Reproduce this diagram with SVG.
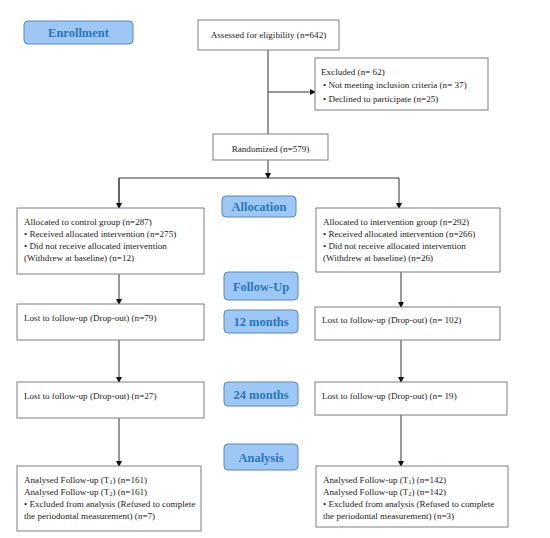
<svg xmlns="http://www.w3.org/2000/svg" width="550" height="538" viewBox="0 0 550 538">
<style>
.box{fill:#fff;stroke:#7f7f7f;stroke-width:1}
.lbl{fill:#9dc8f5;stroke:#5b87b8;stroke-width:1}
.lt{font-family:"Liberation Serif",serif;font-weight:bold;font-size:12.5px;fill:#2e75b6;text-anchor:middle}
.t{font-family:"Liberation Serif",serif;font-size:9.1px;fill:#222}
.ln{stroke:#333;stroke-width:1;fill:none}
</style>
<defs>
<marker id="ah" markerWidth="6" markerHeight="6" refX="5" refY="3" orient="auto" markerUnits="userSpaceOnUse">
<path d="M0,0 L6,3 L0,6 Z" fill="#111"/>
</marker>
</defs>
<rect width="550" height="538" fill="#fff"/>
<g id="connectors">
<line class="ln" x1="268" y1="50" x2="268" y2="134"/>
<line class="ln" x1="268" y1="92" x2="315" y2="92" marker-end="url(#ah)"/>
<line class="ln" x1="268" y1="160" x2="268" y2="178" marker-end="url(#ah)"/>
<polyline class="ln" points="119,208 119,178 399,178 399,208" marker-end="url(#ah)"/>
<line class="ln" x1="119" y1="178" x2="119" y2="208" marker-end="url(#ah)"/>
<line class="ln" x1="119" y1="274" x2="119" y2="304" marker-end="url(#ah)"/>
<line class="ln" x1="401" y1="272" x2="401" y2="307" marker-end="url(#ah)"/>
<line class="ln" x1="119" y1="340" x2="119" y2="382" marker-end="url(#ah)"/>
<line class="ln" x1="401" y1="340" x2="401" y2="382" marker-end="url(#ah)"/>
<line class="ln" x1="119" y1="418" x2="119" y2="466" marker-end="url(#ah)"/>
<line class="ln" x1="401" y1="415" x2="401" y2="466" marker-end="url(#ah)"/>
</g>
<g id="enrollment"><rect class="lbl" x="24" y="21" width="109" height="23" rx="4"/><text class="lt" x="78.5" y="37">Enrollment</text></g>
<g id="allocation"><rect class="lbl" x="222" y="196" width="74" height="21" rx="4"/><text class="lt" x="259" y="211">Allocation</text></g>
<g id="followup"><rect class="lbl" x="224" y="272" width="74" height="28" rx="4"/><text class="lt" x="261" y="291">Follow-Up</text></g>
<g id="m12"><rect class="lbl" x="224" y="310" width="74" height="23" rx="4"/><text class="lt" x="261" y="326">12 months</text></g>
<g id="m24"><rect class="lbl" x="224" y="382" width="74" height="24" rx="4"/><text class="lt" x="261" y="399">24 months</text></g>
<g id="analysis"><rect class="lbl" x="224" y="444" width="74" height="26" rx="4"/><text class="lt" x="261" y="462">Analysis</text></g>
<g id="assessed"><rect class="box" x="198" y="20" width="141" height="30"/><text class="t" x="268.5" y="38" text-anchor="middle">Assessed for eligibility (n=642)</text></g>
<g id="excluded"><rect class="box" x="315" y="58" width="173" height="52"/>
<text class="t" x="321" y="75">Excluded (n= 62)</text>
<text class="t" x="323" y="88">•  Not meeting inclusion criteria (n= 37)</text>
<text class="t" x="323" y="102">•  Declined to participate (n=25)</text></g>
<g id="randomized"><rect class="box" x="213" y="134" width="115" height="26"/><text class="t" x="270.5" y="152" text-anchor="middle">Randomized (n=579)</text></g>
<g id="alloc-control"><rect class="box" x="17" y="208" width="187" height="66"/>
<text class="t" x="24" y="225">Allocated to control group (n=287)</text>
<text class="t" x="24" y="237">• Received allocated intervention (n=275)</text>
<text class="t" x="24" y="249">• Did not receive allocated intervention</text>
<text class="t" x="24" y="261">(Withdrew at baseline) (n=12)</text></g>
<g id="alloc-interv"><rect class="box" x="316" y="208" width="184" height="64"/>
<text class="t" x="323" y="225">Allocated to intervention group (n=292)</text>
<text class="t" x="323" y="237">• Received allocated intervention (n=266)</text>
<text class="t" x="323" y="249">• Did not receive allocated intervention</text>
<text class="t" x="323" y="261">(Withdrew at baseline) (n=26)</text></g>
<g id="lost12-control"><rect class="box" x="17" y="304" width="187" height="36"/><text class="t" x="24" y="321">Lost to follow-up (Drop-out) (n=79)</text></g>
<g id="lost12-interv"><rect class="box" x="315" y="307" width="185" height="33"/><text class="t" x="322" y="323">Lost to follow-up (Drop-out) (n= 102)</text></g>
<g id="lost24-control"><rect class="box" x="17" y="382" width="187" height="36"/><text class="t" x="24" y="399">Lost to follow-up (Drop-out) (n=27)</text></g>
<g id="lost24-interv"><rect class="box" x="315" y="382" width="192" height="33"/><text class="t" x="322" y="399">Lost to follow-up (Drop-out) (n= 19)</text></g>
<g id="analysis-control"><rect class="box" x="17" y="466" width="184" height="65"/>
<text class="t" x="24" y="483">Analysed Follow-up (T<tspan font-size="6" dy="1">1</tspan><tspan dy="-1">) (n=161)</tspan></text>
<text class="t" x="24" y="495">Analysed Follow-up (T<tspan font-size="6" dy="1">2</tspan><tspan dy="-1">) (n=161)</tspan></text>
<text class="t" x="24" y="507">• Excluded from analysis (Refused to complete</text>
<text class="t" x="24" y="519">the periodontal measurement) (n=7)</text></g>
<g id="analysis-interv"><rect class="box" x="316" y="466" width="192" height="61"/>
<text class="t" x="323" y="483">Analysed Follow-up (T<tspan font-size="6" dy="1">1</tspan><tspan dy="-1">) (n=142)</tspan></text>
<text class="t" x="323" y="495">Analysed Follow-up (T<tspan font-size="6" dy="1">2</tspan><tspan dy="-1">) (n=142)</tspan></text>
<text class="t" x="323" y="507">• Excluded from analysis (Refused to complete</text>
<text class="t" x="323" y="519">the periodontal measurement) (n=3)</text></g>
</svg>
